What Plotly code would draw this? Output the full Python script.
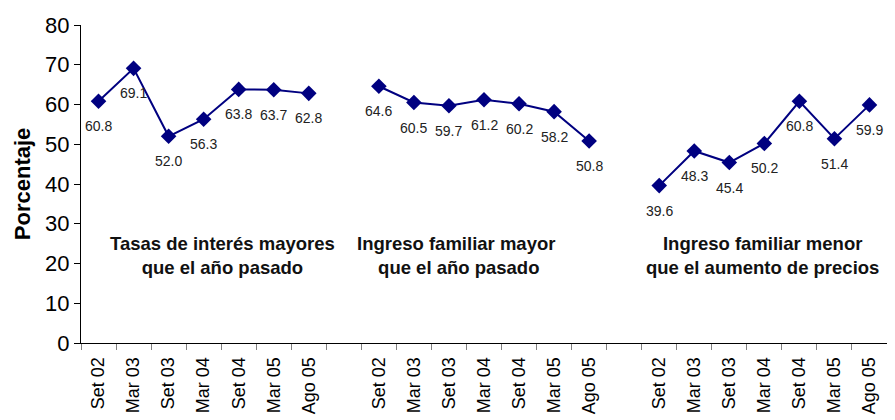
import plotly.graph_objects as go

periods = ["Set 02", "Mar 03", "Set 03", "Mar 04", "Set 04", "Mar 05", "Ago 05"]
tasas_interes = [60.8, 69.1, 52.0, 56.3, 63.8, 63.7, 62.8]
ingreso_mayor = [64.6, 60.5, 59.7, 61.2, 60.2, 58.2, 50.8]
ingreso_menor = [39.6, 48.3, 45.4, 50.2, 60.8, 51.4, 59.9]
group_titles = [
    "Tasas de interés mayores<br>que el año pasado",
    "Ingreso familiar mayor<br> que el año pasado",
    "Ingreso familiar menor<br>que el aumento de precios",
]
series = [tasas_interes, ingreso_mayor, ingreso_menor]

n = len(periods)
stride = n + 1  # one empty category between groups
total = stride * len(series) - 1

FONT = "Arial, Liberation Sans"

fig = go.Figure()
annotations = []
for g, vals in enumerate(series):
    xs = [g * stride + i for i in range(n)]
    fig.add_trace(go.Scatter(
        x=xs, y=vals, mode="lines+markers",
        line=dict(color="#000080", width=2),
        marker=dict(symbol="diamond", size=12, color="#000080"),
        showlegend=False, hoverinfo="skip",
    ))
    for x, v in zip(xs, vals):
        annotations.append(dict(
            x=x, y=v, xref="x", yref="y", text=f"{v:.1f}", showarrow=False,
            yshift=-25, font=dict(family=FONT, size=14, color="#222222"),
        ))

title_x = [3.53, 10.2, 18.95]
for tx, t in zip(title_x, group_titles):
    annotations.append(dict(
        x=tx, y=22.0, xref="x", yref="y", text=f"<b>{t}</b>", showarrow=False,
        align="center",
        font=dict(family=FONT, size=18.5, color="#111111"),
    ))

annotations.append(dict(
    x=-0.073, y=0.5, xref="paper", yref="paper", text="<b>Porcentaje</b>",
    showarrow=False, textangle=-90, xanchor="center", yanchor="middle",
    font=dict(family=FONT, size=22, color="black"),
))

tickvals = []
ticktext = []
for g in range(len(series)):
    for i, p in enumerate(periods):
        tickvals.append(g * stride + i)
        ticktext.append(p)

fig.update_layout(
    width=887, height=412,
    margin=dict(l=73, r=8, t=17, b=77),
    paper_bgcolor="white", plot_bgcolor="white",
    annotations=annotations,
    font=dict(family=FONT, color="black"),
    xaxis=dict(
        range=[-0.5, total - 0.5],
        tickmode="array", tickvals=tickvals, ticktext=ticktext,
        tickangle=-90, ticks="", showgrid=False, zeroline=False,
        showline=True, linecolor="black", linewidth=1,
        tickfont=dict(size=18, family=FONT, color="black"),
        ticklabelstandoff=6,
        automargin=False,
        minor=dict(tickmode="array", tickvals=[i - 0.5 for i in range(total + 1)],
                   ticks="outside", ticklen=6, tickcolor="#808080", tickwidth=1, showgrid=False),
    ),
    yaxis=dict(
        range=[0, 80], dtick=10, tick0=0,
        ticks="outside", ticklen=6, tickcolor="black",
        showgrid=False, zeroline=False,
        showline=True, linecolor="black", linewidth=1,
        tickfont=dict(size=22, family=FONT, color="black"),
        automargin=False,
    ),
)

fig.write_html("out.html")
